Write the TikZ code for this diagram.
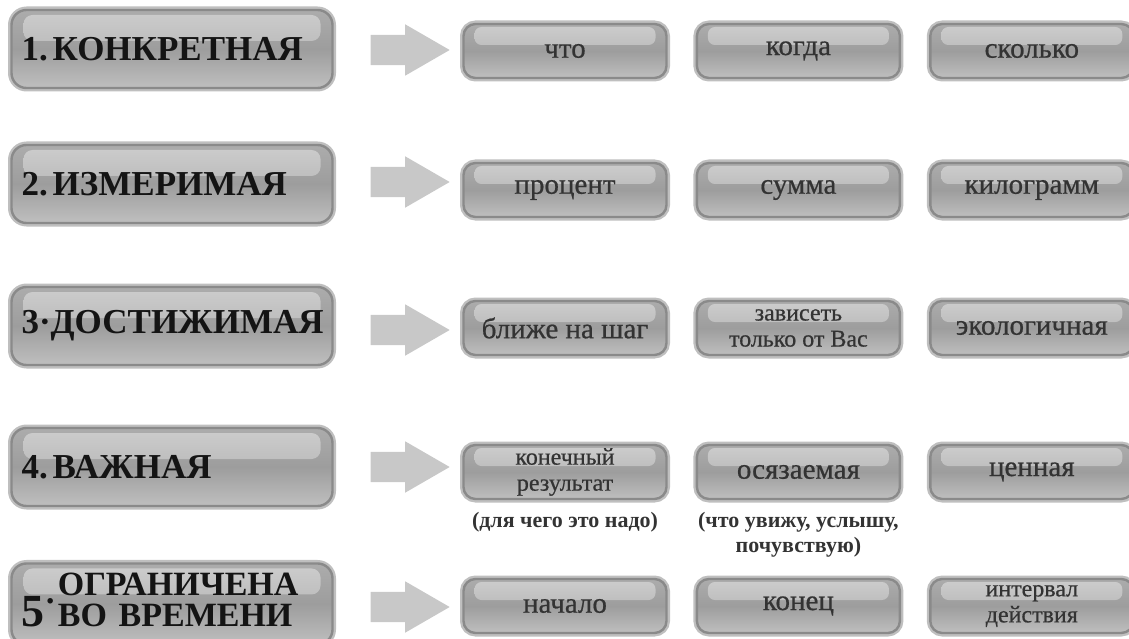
\documentclass[tikz,border=0pt]{standalone}
\usepackage{fontspec}
\setmainfont{Liberation Serif}
\newfontfamily\wordfont[FakeBold=0.6]{Liberation Serif}
\usepackage{xcolor}
\usetikzlibrary{positioning,shapes.arrows}

\definecolor{edgegray}{HTML}{8A8A8A}
\definecolor{glowgray}{HTML}{BFBFBF}
\definecolor{bodytop}{HTML}{ACACAC}
\definecolor{bodymid}{HTML}{9D9D9D}
\definecolor{bodybot}{HTML}{BFBFBF}
\definecolor{shinetop}{HTML}{CDCDCD}
\definecolor{shinebot}{HTML}{A9A9A9}
\definecolor{arrowgray}{HTML}{C8C8C8}
\definecolor{labelink}{HTML}{141414}
\definecolor{wordink}{HTML}{333333}

\begin{document}
\begin{tikzpicture}[x=1pt,y=-1pt,
  node distance=12pt and 28pt,
  gloss/.style={rounded corners=#1,draw=edgegray,line width=2.4pt,
    preaction={draw=glowgray,line width=7pt},
    top color=bodytop,bottom color=bodybot,middle color=bodymid},
  crit/.style={gloss=15pt,minimum width=321pt,minimum height=78pt,
    text width=301pt,inner xsep=10pt,inner ysep=9pt,align=left,text=labelink,
    font=\fontsize{35}{35}\selectfont\bfseries,
    path picture={\shade[top color=shinetop,bottom color=shinebot,rounded corners=9pt]
      ([xshift=12pt,yshift=-5pt]path picture bounding box.north west) rectangle
      ([xshift=-12pt,yshift=-31pt]path picture bounding box.north east);}},
  word/.style={gloss=12pt,minimum width=203pt,minimum height=54pt,
    inner sep=2pt,align=center,text=wordink,
    font=\wordfont\fontsize{29}{23}\selectfont,
    path picture={\shade[top color=shinetop,bottom color=shinebot,rounded corners=7pt]
      ([xshift=11pt,yshift=-3pt]path picture bounding box.north west) rectangle
      ([xshift=-11pt,yshift=-21pt]path picture bounding box.north east);}},
  pair/.style={word,inner sep=1pt,font=\wordfont\fontsize{24}{26}\selectfont},
  note/.style={inner sep=0pt,align=center,text=wordink,
    font=\fontsize{22}{25}\selectfont\bfseries},
  pointer/.style={single arrow,fill=arrowgray,draw=none,inner xsep=0pt,inner ysep=15pt,
    minimum height=79pt,minimum width=51pt,
    single arrow head extend=10.5pt,single arrow tip angle=60}]
\useasboundingbox (0,0) rectangle (1129,639);

% 1
\node[crit] (crit1) at (172,49) {1.\hspace{5pt}КОНКРЕТНАЯ};
\node[pointer] (arr1) at (397,50) {};
\node[word] (w11) at (565,51) {что};
\node[word,right=of w11] (w12) {когда};
\node[word,right=of w12] (w13) {сколько};

% 2
\node[crit] (crit2) at (172,184) {2.\hspace{5pt}ИЗМЕРИМАЯ};
\node[pointer] (arr2) at (397,182) {};
\node[word] (w21) at (565,190) {процент};
\node[word,right=of w21] (w22) {сумма};
\node[word,right=of w22] (w23) {килограмм};

% 3
\node[crit] (crit3) at (172,326) {3·ДОСТИЖИМАЯ};
\node[pointer] (arr3) at (397,330) {};
\node[word] (w31) at (565,328) {ближе на шаг};
\node[pair,right=of w31] (w32) {зависеть\\только от Вас};
\node[word,right=of w32] (w33) {экологичная};

% 4
\node[crit] (crit4) at (172,467) {4.\hspace{5pt}ВАЖНАЯ};
\node[pointer] (arr4) at (397,467) {};
\node[pair] (w41) at (565,472) {конечный\\результат};
\node[word,right=of w41] (w42) {осязаемая};
\node[word,right=of w42] (w43) {ценная};
\node[note,below=of w41] (n41) {(для чего это надо)};
\node[note,below=of w42] (n42) {(что увижу, услышу,\\почувствую)};

% 5
\node[crit] (crit5) at (172,604) {\fontsize{46}{46}\selectfont 5\raisebox{14pt}{\fontsize{34}{34}\selectfont·}\hspace{2pt}%
  \fontsize{34}{30}\selectfont\begin{tabular}[b]{@{}l@{}}ОГРАНИЧЕНА\\ВО ВРЕМЕНИ\end{tabular}};
\node[pointer] (arr5) at (397,607) {};
\node[word] (w51) at (565,606) {начало};
\node[word,right=of w51] (w52) {конец};
\node[pair,right=of w52] (w53) {интервал\\действия};
\end{tikzpicture}
\end{document}
